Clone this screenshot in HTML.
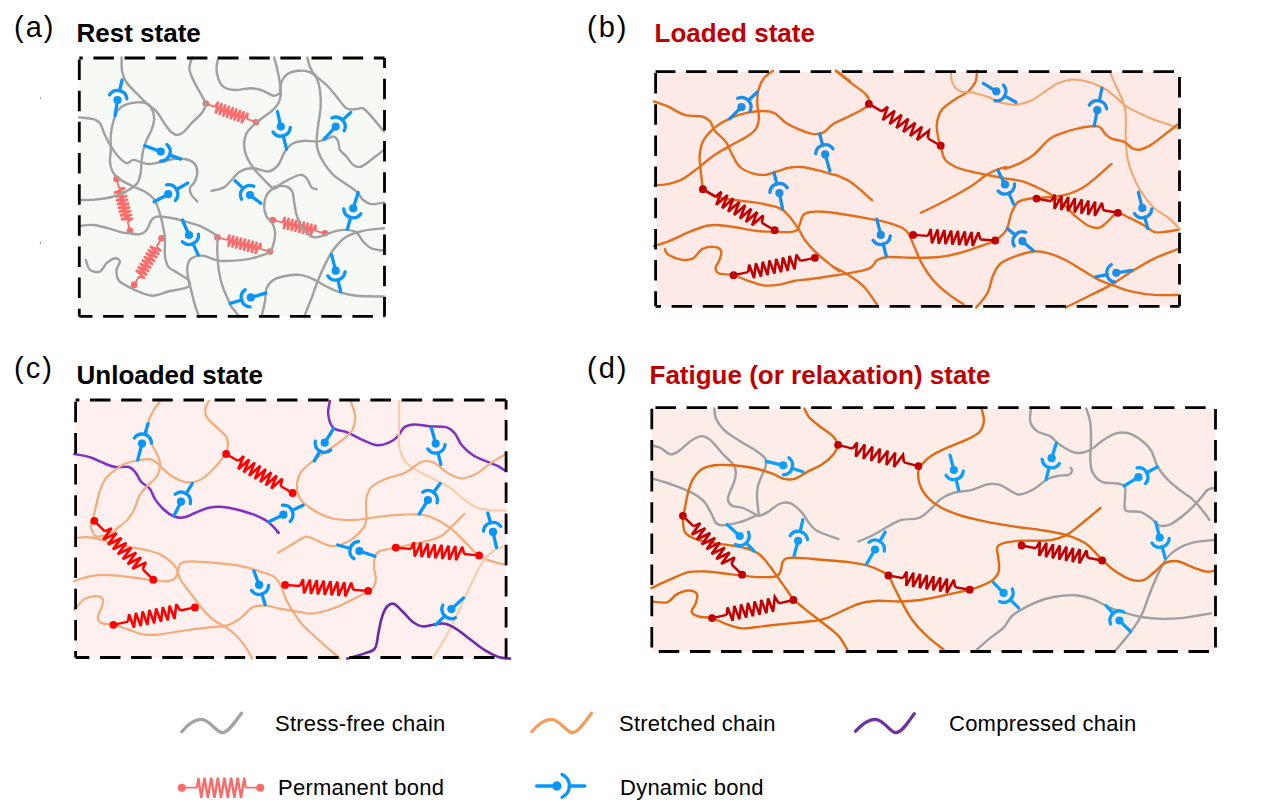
<!DOCTYPE html>
<html><head><meta charset="utf-8">
<style>
html,body{margin:0;padding:0;background:#fff;width:1268px;height:811px;overflow:hidden}
svg{display:block}
text{font-family:"Liberation Sans",sans-serif}
.lbl{font-size:29px;fill:#000;letter-spacing:2px}
.ttl{font-size:26px;font-weight:bold}
.leg{font-size:22px;fill:#000;letter-spacing:0.25px}
.box{stroke:#000;stroke-width:3;stroke-dasharray:21 10}
.g{fill:none;stroke:#a0a0a0;stroke-width:2.4;stroke-linecap:round}
.o{fill:none;stroke:#e36e1c;stroke-width:2.4;stroke-linecap:round}
.lo{fill:none;stroke:#f2a66c;stroke-width:2.0;stroke-linecap:round}
.p{fill:none;stroke:#8230c2;stroke-width:2.5;stroke-linecap:round}
.p3{fill:none;stroke:#6e2aa0;stroke-width:2.6;stroke-linecap:round}
.lc{fill:none;stroke:#f2ad7a;stroke-width:2.2;stroke-linecap:round}
.do{fill:none;stroke:#e06a12;stroke-width:2.4;stroke-linecap:round}
.vlc{fill:none;stroke:#f8cba6;stroke-width:2.0;stroke-linecap:round}
</style></head><body>
<svg width="1268" height="811" viewBox="0 0 1268 811">
<!-- titles -->
<text class="lbl" x="14" y="37">(a)</text>
<text class="ttl" x="76.5" y="42" fill="#000">Rest state</text>
<text class="lbl" x="587" y="37">(b)</text>
<text class="ttl" x="654.5" y="42" fill="#c00000">Loaded state</text>
<text class="lbl" x="14" y="378">(c)</text>
<text class="ttl" x="76.5" y="383.5" fill="#000">Unloaded state</text>
<text class="lbl" x="587" y="378">(d)</text>
<text class="ttl" x="649.5" y="384" fill="#c00000">Fatigue (or relaxation) state</text>

<!-- boxes -->
<rect x="79.3" y="58" width="305.2" height="258.4" fill="#f7f9f5"/>
<rect x="656.3" y="72" width="523.2" height="234.3" fill="#fde9e6"/>
<rect x="75.5" y="400" width="430.6" height="257.5" fill="#fdf0ee"/>
<rect x="652" y="408.5" width="563.5" height="243" fill="#fdede9"/>

<g stroke="#fa6b6b" fill="none" stroke-linejoin="miter" stroke-miterlimit="3"><path stroke-width="1.8" d="M205.8 103.6 L214.8 106.9 M247.0 118.9 L256.0 122.2"/><path stroke-width="2.2" d="M214.8 106.9 L218.2 101.8 L215.6 113.6 L221.9 103.2 L219.3 115.0 L225.6 104.5 L223.0 116.4 L229.3 105.9 L226.7 117.7 L233.0 107.3 L230.4 119.1 L236.7 108.6 L234.0 120.5 L240.4 110.0 L237.7 121.8 L244.0 111.4 L241.4 123.2 L247.7 112.7 L247.0 118.9"/></g><circle cx="205.8" cy="103.6" r="3.3" fill="#fa6b6b"/><circle cx="256.0" cy="122.2" r="3.3" fill="#fa6b6b"/>
<g stroke="#fa6b6b" fill="none" stroke-linejoin="miter" stroke-miterlimit="3"><path stroke-width="1.8" d="M116.6 179.0 L119.0 188.3 M127.6 221.5 L130.0 230.8"/><path stroke-width="2.2" d="M119.0 188.3 L125.2 188.2 L114.0 192.8 L126.2 192.0 L115.0 196.6 L127.1 195.8 L115.9 200.4 L128.1 199.6 L116.9 204.2 L129.1 203.4 L117.9 208.0 L130.1 207.2 L118.9 211.8 L131.1 211.0 L119.9 215.6 L132.1 214.8 L120.9 219.4 L133.0 218.6 L127.6 221.5"/></g><circle cx="116.6" cy="179.0" r="3.3" fill="#fa6b6b"/><circle cx="130.0" cy="230.8" r="3.3" fill="#fa6b6b"/>
<g stroke="#fa6b6b" fill="none" stroke-linejoin="miter" stroke-miterlimit="3"><path stroke-width="1.8" d="M161.6 238.3 L156.7 246.7 M139.0 276.5 L134.1 284.9"/><path stroke-width="2.2" d="M156.7 246.7 L161.1 251.0 L149.9 246.3 L159.1 254.4 L147.9 249.7 L157.1 257.8 L145.9 253.1 L155.0 261.2 L143.9 256.6 L153.0 264.6 L141.8 260.0 L151.0 268.1 L139.8 263.4 L149.0 271.5 L137.8 266.8 L147.0 274.9 L135.8 270.2 L144.9 278.3 L139.0 276.5"/></g><circle cx="161.6" cy="238.3" r="3.3" fill="#fa6b6b"/><circle cx="134.1" cy="284.9" r="3.3" fill="#fa6b6b"/>
<g stroke="#fa6b6b" fill="none" stroke-linejoin="miter" stroke-miterlimit="3"><path stroke-width="1.8" d="M272.8 220.0 L282.2 222.4 M315.5 230.9 L324.9 233.3"/><path stroke-width="2.2" d="M282.2 222.4 L285.0 216.9 L283.7 229.0 L288.9 217.9 L287.5 229.9 L292.7 218.9 L291.3 230.9 L296.5 219.9 L295.1 231.9 L300.3 220.8 L299.0 232.9 L304.2 221.8 L302.8 233.8 L308.0 222.8 L306.6 234.8 L311.8 223.8 L310.4 235.8 L315.6 224.7 L315.5 230.9"/></g><circle cx="272.8" cy="220.0" r="3.3" fill="#fa6b6b"/><circle cx="324.9" cy="233.3" r="3.3" fill="#fa6b6b"/>
<g stroke="#fa6b6b" fill="none" stroke-linejoin="miter" stroke-miterlimit="3"><path stroke-width="1.8" d="M217.4 237.4 L226.9 240.0 M260.5 249.0 L270.0 251.6"/><path stroke-width="2.2" d="M226.9 240.0 L229.8 234.5 L228.3 246.6 L233.7 235.6 L232.2 247.6 L237.5 236.6 L236.0 248.6 L241.4 237.7 L239.9 249.7 L245.3 238.7 L243.8 250.7 L249.1 239.7 L247.6 251.8 L253.0 240.8 L251.5 252.8 L256.8 241.8 L255.3 253.9 L260.7 242.9 L260.5 249.0"/></g><circle cx="217.4" cy="237.4" r="3.3" fill="#fa6b6b"/><circle cx="270.0" cy="251.6" r="3.3" fill="#fa6b6b"/>
<path class="g" d="M121.6 57.5 C121.7 59.9 121.3 67.5 122.1 71.6 C122.9 75.8 124.2 78.9 126.6 82.5 C129.0 86.1 133.3 89.8 136.6 93.3 C139.9 96.8 143.2 100.2 146.6 103.3 C149.9 106.3 153.8 108.5 156.6 111.6 C159.3 114.6 160.9 118.3 163.2 121.6 C165.6 124.9 168.4 129.4 170.7 131.6 C173.1 133.8 175.2 134.9 177.4 134.9 C179.6 134.9 181.7 133.5 184.0 131.6 C186.4 129.6 188.6 126.3 191.5 123.2 C194.4 120.2 199.2 116.5 201.5 113.3 C203.9 110.1 205.5 106.9 205.7 104.1 C205.8 101.3 204.3 100.4 202.3 96.6 C200.4 92.9 196.2 86.1 194.0 81.6 C191.9 77.2 190.1 73.3 189.5 70.0 C189.0 66.7 190.2 63.7 190.7 61.7 C191.2 59.6 192.1 58.2 192.4 57.5"/>
<path class="g" d="M79.2 117.4 C81.5 117.7 89.8 118.1 93.3 119.1 C96.8 120.1 98.2 120.9 100.0 123.2 C101.8 125.6 102.5 129.6 104.1 133.2 C105.8 136.8 107.6 141.0 110.0 144.9 C112.3 148.8 115.5 153.5 118.3 156.5 C121.1 159.6 124.1 162.6 126.6 163.2 C129.1 163.8 130.8 160.0 133.3 159.9 C135.8 159.7 138.8 161.7 141.6 162.4 C144.4 163.1 146.3 164.2 149.9 164.0 C153.5 163.9 159.3 162.4 163.2 161.5 C167.1 160.7 169.6 159.5 173.2 159.0 C176.8 158.6 181.4 158.3 184.9 159.0 C188.3 159.7 191.9 161.1 194.0 163.2 C196.1 165.3 197.2 168.5 197.3 171.5 C197.5 174.6 196.1 178.7 194.9 181.5 C193.6 184.3 190.4 185.9 189.9 188.2 C189.3 190.4 190.3 192.7 191.5 195.0 C192.8 197.2 196.4 200.5 197.3 201.6"/>
<path class="g" d="M80.0 200.0 C82.5 199.9 89.7 200.1 95.0 199.6 C100.2 199.1 106.6 198.3 111.6 197.0 C116.6 195.7 121.2 193.8 124.9 192.0 C128.7 190.2 131.9 188.1 134.1 186.3 C136.3 184.6 137.1 184.0 138.3 181.5 C139.4 179.0 140.2 174.9 140.8 171.5 C141.3 168.2 141.2 165.1 141.6 161.5 C142.0 157.9 142.4 153.5 143.2 149.9 C144.1 146.3 145.2 143.2 146.6 139.9 C148.0 136.6 150.3 133.2 151.6 129.9 C152.8 126.6 153.9 123.2 154.1 119.9 C154.2 116.6 153.7 112.7 152.4 109.9 C151.2 107.2 149.2 104.5 146.6 103.3 C143.9 102.0 140.2 102.2 136.6 102.4 C133.0 102.7 128.1 103.6 124.9 104.9 C121.7 106.3 119.4 108.0 117.4 110.8 C115.5 113.5 114.4 117.6 113.3 121.6 C112.2 125.6 111.2 130.2 110.8 134.9 C110.4 139.6 110.9 145.4 110.8 149.9 C110.7 154.3 109.7 157.9 110.0 161.5 C110.2 165.1 111.1 168.7 112.5 171.5 C113.8 174.3 115.4 176.0 118.3 178.2 C121.2 180.4 125.5 182.6 129.9 184.8 C134.4 187.1 141.0 189.4 144.9 191.7 C148.8 193.9 151.0 195.5 153.2 198.3 C155.5 201.1 156.7 204.1 158.2 208.3 C159.8 212.5 161.3 218.3 162.4 223.3 C163.5 228.3 164.5 233.0 164.9 238.3 C165.3 243.5 164.3 250.2 164.9 254.9 C165.4 259.6 166.0 263.5 168.2 266.6 C170.4 269.6 174.9 271.0 178.2 273.2 C181.5 275.4 186.3 277.9 188.2 279.9 C190.1 281.8 190.4 283.5 189.9 284.9 C189.3 286.3 188.5 287.1 184.9 288.2 C181.3 289.3 173.5 290.3 168.2 291.5 C162.9 292.8 158.2 295.7 153.2 295.7 C148.2 295.7 143.0 293.3 138.3 291.5 C133.5 289.7 128.3 286.8 124.9 284.9 C121.6 282.9 119.7 282.4 118.3 279.9 C116.9 277.4 116.3 272.9 116.6 269.9 C116.9 266.8 120.2 263.5 119.9 261.6 C119.7 259.6 117.2 258.0 115.0 258.2 C112.7 258.5 109.1 261.0 106.6 263.2 C104.1 265.5 102.7 270.5 100.0 271.6 C97.2 272.7 92.3 271.8 90.0 269.9 C87.6 268.0 86.5 261.6 85.8 259.9"/>
<path class="g" d="M218.2 57.5 C217.9 59.3 216.5 64.8 216.5 68.3 C216.5 71.8 217.0 75.3 218.2 78.3 C219.3 81.4 220.4 84.7 223.2 86.6 C225.9 88.6 230.1 89.7 234.8 90.0 C239.6 90.2 246.9 88.2 251.6 88.3 C256.4 88.4 259.7 89.5 263.3 90.8 C266.9 92.0 270.5 95.4 273.3 95.8 C276.1 96.2 278.8 93.7 279.9 93.3"/>
<path class="g" d="M274.1 57.5 C274.7 59.6 276.5 65.7 277.4 70.0 C278.4 74.3 279.4 79.1 279.9 83.3 C280.5 87.5 281.2 91.3 280.8 95.0 C280.4 98.6 279.2 102.0 277.4 104.9 C275.6 107.9 273.4 109.5 270.0 112.4 C266.5 115.3 260.5 118.9 256.6 122.4 C252.7 125.9 248.7 129.5 246.6 133.2 C244.6 137.0 244.1 141.0 244.1 144.9 C244.1 148.8 245.0 152.5 246.6 156.5 C248.3 160.6 251.4 165.3 254.1 169.0 C256.9 172.8 260.1 175.8 263.3 179.0 C266.5 182.2 270.5 187.0 273.3 188.2 C276.1 189.3 277.7 186.2 279.9 186.0 C282.2 185.7 284.5 185.7 286.6 186.7 C288.7 187.6 291.2 189.2 292.4 191.7 C293.7 194.2 293.4 197.8 294.1 201.6 C294.8 205.5 295.3 210.8 296.6 215.0 C297.8 219.1 299.6 223.4 301.6 226.6 C303.5 229.8 306.0 232.3 308.2 234.1 C310.5 235.9 312.1 237.3 314.9 237.4 C317.7 237.6 321.3 236.0 324.9 234.9 C328.5 233.8 332.9 231.6 336.5 230.8 C340.1 229.9 343.2 229.7 346.5 229.9 C349.9 230.2 353.7 230.5 356.5 232.4 C359.3 234.4 360.7 239.0 363.2 241.6 C365.7 244.2 368.0 246.7 371.5 248.3 C375.0 249.8 381.9 250.3 384.0 250.8"/>
<path class="g" d="M274.9 186.3 C273.6 187.8 268.4 191.6 266.6 195.0 C264.8 198.4 264.1 203.0 264.1 206.6 C264.1 210.2 265.2 213.9 266.6 216.6 C268.0 219.4 271.1 220.8 272.4 223.3 C273.8 225.8 274.7 228.6 274.9 231.6 C275.2 234.7 274.9 238.3 274.1 241.6 C273.3 244.9 272.6 249.1 270.0 251.6 C267.3 254.1 262.7 255.2 258.3 256.6 C253.9 258.0 249.7 259.2 243.3 259.9 C236.9 260.6 226.5 261.4 219.8 260.7 C213.1 260.0 207.9 256.2 203.2 255.7 C198.5 255.3 194.2 256.4 191.5 258.2 C188.9 260.0 187.9 263.2 187.4 266.6 C186.8 269.9 187.5 274.1 188.2 278.2 C188.9 282.4 190.4 287.1 191.5 291.5 C192.6 296.0 193.6 300.7 194.9 304.9 C196.1 309.0 198.3 314.6 199.0 316.5"/>
<path class="g" d="M279.9 93.3 C280.2 91.3 280.4 84.8 281.6 81.6 C282.9 78.4 284.7 75.9 287.4 74.1 C290.2 72.3 294.8 71.2 298.2 70.8 C301.7 70.4 305.3 70.7 308.2 71.6 C311.1 72.6 313.8 73.6 315.7 76.6 C317.7 79.7 319.1 85.0 319.9 90.0 C320.7 95.0 321.0 100.8 320.7 106.6 C320.4 112.4 318.9 119.1 318.2 124.9 C317.5 130.7 316.6 137.1 316.6 141.6 C316.6 146.0 317.0 147.9 318.2 151.5 C319.5 155.2 321.6 159.3 324.1 163.2 C326.5 167.1 329.7 171.5 333.2 174.9 C336.7 178.2 341.0 180.4 344.9 183.2 C348.7 186.0 353.5 188.9 356.5 191.7 C359.6 194.5 360.7 197.9 363.2 200.0 C365.7 202.1 368.0 203.7 371.5 204.1 C375.0 204.6 381.9 202.8 384.0 202.5"/>
<path class="g" d="M307.4 57.5 C307.8 59.0 308.7 63.7 309.9 66.7 C311.1 69.6 312.1 71.9 314.9 75.0 C317.7 78.0 322.9 81.4 326.5 85.0 C330.2 88.6 333.2 92.7 336.5 96.6 C339.9 100.5 343.2 106.2 346.5 108.3 C349.9 110.3 353.7 109.1 356.5 109.1 C359.3 109.1 360.7 107.0 363.2 108.3 C365.7 109.5 368.0 112.7 371.5 116.6 C375.0 120.5 381.9 129.1 384.0 131.6"/>
<path class="g" d="M211.5 190.8 C213.7 190.1 220.1 189.9 224.8 186.7 C229.6 183.4 235.2 174.6 240.0 171.5 C244.7 168.4 248.6 168.2 253.3 168.2 C258.0 168.2 264.1 172.1 268.3 171.5 C272.4 171.0 275.5 168.2 278.3 164.9 C281.0 161.5 282.4 155.2 284.9 151.5 C287.4 147.9 289.9 145.0 293.3 143.2 C296.6 141.4 301.0 141.0 304.9 140.7 C308.8 140.5 313.0 141.8 316.6 141.6 C320.2 141.3 323.6 139.9 326.5 139.1 C329.5 138.2 332.1 136.1 334.0 136.6 C336.0 137.0 337.2 139.3 338.2 141.6 C339.2 143.8 338.5 147.4 339.9 149.9 C341.3 152.4 344.3 154.0 346.5 156.5 C348.7 159.0 350.7 163.2 353.2 164.9 C355.7 166.5 358.2 167.6 361.5 166.5 C364.8 165.4 369.4 161.0 373.2 158.2 C376.9 155.4 382.2 151.3 384.0 149.9"/>
<path class="g" d="M271.6 189.8 C273.8 188.4 280.2 184.0 284.9 181.5 C289.6 179.0 296.3 175.4 299.9 174.9 C303.5 174.3 304.6 176.1 306.6 178.2 C308.5 180.3 309.9 185.7 311.6 187.5 C313.2 189.3 315.7 188.9 316.6 189.2"/>
<path class="g" d="M80.8 225.8 C82.9 225.6 88.7 224.5 93.3 225.0 C97.9 225.4 103.6 227.0 108.3 228.3 C113.0 229.5 118.0 231.6 121.6 232.4 C125.2 233.3 126.9 233.0 129.9 233.3 C133.0 233.6 137.1 234.7 139.9 234.1 C142.7 233.6 144.6 232.3 146.6 229.9 C148.5 227.6 149.9 222.2 151.6 220.0 C153.2 217.7 153.8 217.0 156.6 216.6 C159.3 216.2 163.8 216.8 168.2 217.5 C172.7 218.2 177.7 219.3 183.2 220.8 C188.7 222.3 196.5 224.5 201.5 226.6 C206.5 228.7 210.5 231.5 213.2 233.3 C215.8 235.1 216.6 234.4 217.3 237.4 C218.0 240.5 217.0 245.9 217.3 251.6 C217.6 257.3 218.0 265.5 219.0 271.6 C220.0 277.7 221.3 282.9 223.2 288.2 C225.0 293.5 228.7 300.4 229.8 303.2 C231.0 306.0 228.9 303.2 230.0 304.9 C231.1 306.5 235.1 311.2 236.7 313.2 C238.2 315.1 238.7 315.9 239.2 316.5"/>
<path class="g" d="M384.0 228.3 C380.5 228.7 369.4 229.4 363.2 230.8 C356.9 232.2 351.5 233.4 346.5 236.6 C341.5 239.8 336.8 245.2 333.2 249.9 C329.6 254.6 327.4 259.9 324.9 264.9 C322.4 269.9 320.4 274.3 318.2 279.9 C316.0 285.4 313.9 292.1 311.6 298.2 C309.2 304.3 305.3 313.5 304.1 316.5"/>
<path class="g" d="M261.6 316.5 C262.2 314.0 264.1 306.2 265.0 301.5 C265.8 296.8 265.2 291.8 266.6 288.2 C268.0 284.6 270.0 282.0 273.3 279.9 C276.6 277.8 282.2 276.6 286.6 275.7 C291.0 274.9 295.5 274.3 299.9 274.9 C304.4 275.4 308.8 277.1 313.2 279.1 C317.7 281.0 322.1 284.3 326.5 286.5 C331.0 288.8 334.9 290.8 339.9 292.4 C344.9 293.9 349.2 295.0 356.5 295.7 C363.9 296.4 379.4 296.4 384.0 296.5"/>
<g stroke="#0a96f5" stroke-width="3.3" stroke-linecap="round" fill="none"><path d="M115.0 115.8 L117.5 100.0"/><path d="M109.5 94.8 A9.5 9.5 0 0 1 126.9 98.8"/><path d="M119.6 90.7 L122.1 80.0"/></g><circle cx="117.5" cy="100.0" r="4.1" fill="#0a96f5"/>
<g stroke="#0a96f5" stroke-width="3.3" stroke-linecap="round" fill="none"><path d="M144.9 145.7 L160.7 151.6"/><path d="M166.9 144.4 A9.5 9.5 0 0 1 160.6 161.1"/><path d="M169.6 154.9 L180.7 159.1"/></g><circle cx="160.7" cy="151.6" r="4.1" fill="#0a96f5"/>
<g stroke="#0a96f5" stroke-width="3.3" stroke-linecap="round" fill="none"><path d="M277.5 111.6 L280.8 126.6"/><path d="M290.3 127.5 A9.5 9.5 0 0 1 273.0 132.0"/><path d="M283.2 135.8 L286.6 149.1"/></g><circle cx="280.8" cy="126.6" r="4.1" fill="#0a96f5"/>
<g stroke="#0a96f5" stroke-width="3.3" stroke-linecap="round" fill="none"><path d="M324.1 139.1 L335.7 126.6"/><path d="M331.9 117.9 A9.5 9.5 0 0 1 344.2 130.8"/><path d="M342.6 120.1 L350.7 112.4"/></g><circle cx="335.7" cy="126.6" r="4.1" fill="#0a96f5"/>
<g stroke="#0a96f5" stroke-width="3.3" stroke-linecap="round" fill="none"><path d="M154.1 201.7 L168.2 194.2"/><path d="M166.6 184.8 A9.5 9.5 0 0 1 175.4 200.4"/><path d="M176.5 189.5 L187.7 183.1"/></g><circle cx="168.2" cy="194.2" r="4.1" fill="#0a96f5"/>
<g stroke="#0a96f5" stroke-width="3.3" stroke-linecap="round" fill="none"><path d="M182.4 220.0 L189.0 235.0"/><path d="M198.5 234.2 A9.5 9.5 0 0 1 182.3 241.7"/><path d="M193.0 243.6 L198.2 254.9"/></g><circle cx="189.0" cy="235.0" r="4.1" fill="#0a96f5"/>
<g stroke="#0a96f5" stroke-width="3.3" stroke-linecap="round" fill="none"><path d="M260.8 203.3 L250.0 195.0"/><path d="M241.5 199.2 A9.5 9.5 0 0 1 253.8 186.3"/><path d="M243.1 188.4 L235.1 180.8"/></g><circle cx="250.0" cy="195.0" r="4.1" fill="#0a96f5"/>
<g stroke="#0a96f5" stroke-width="3.3" stroke-linecap="round" fill="none"><path d="M358.2 192.5 L353.2 208.3"/><path d="M360.9 213.8 A9.5 9.5 0 0 1 343.7 209.0"/><path d="M350.6 217.5 L347.4 229.1"/></g><circle cx="353.2" cy="208.3" r="4.1" fill="#0a96f5"/>
<g stroke="#0a96f5" stroke-width="3.3" stroke-linecap="round" fill="none"><path d="M331.6 254.9 L335.7 270.7"/><path d="M345.1 271.8 A9.5 9.5 0 0 1 327.8 275.9"/><path d="M337.9 279.9 L340.7 291.6"/></g><circle cx="335.7" cy="270.7" r="4.1" fill="#0a96f5"/>
<g stroke="#0a96f5" stroke-width="3.3" stroke-linecap="round" fill="none"><path d="M265.8 293.2 L250.8 297.4"/><path d="M250.1 306.9 A9.5 9.5 0 0 1 245.2 289.7"/><path d="M241.7 300.0 L230.2 303.3"/></g><circle cx="250.8" cy="297.4" r="4.1" fill="#0a96f5"/>
<path class="o" d="M653.9 101.5 C656.2 102.3 662.2 104.0 667.4 106.2 C672.5 108.5 678.9 113.2 684.7 114.9 C690.5 116.6 697.9 115.5 702.1 116.5 C706.3 117.6 707.9 118.9 710.0 121.2 C712.1 123.6 712.1 127.3 714.7 130.7 C717.3 134.1 722.9 137.8 725.8 141.8 C728.7 145.7 729.7 150.2 732.1 154.4 C734.4 158.6 736.5 163.9 740.0 167.0 C743.4 170.2 748.4 172.0 752.6 173.3 C756.8 174.6 761.3 175.2 765.2 174.9 C769.2 174.6 772.3 172.9 776.3 171.7 C780.2 170.6 784.7 168.6 788.9 167.8 C793.1 167.0 796.8 166.6 801.5 167.0 C806.3 167.4 811.8 168.9 817.3 170.2 C822.8 171.5 831.6 174.1 834.7 174.9 C837.7 175.7 833.0 173.6 835.8 174.9 C838.6 176.2 845.5 178.6 851.6 182.8 C857.6 187.0 868.7 197.3 872.1 200.2"/>
<path class="o" d="M773.1 70.7 C771.5 72.1 766.1 75.2 763.6 78.6 C761.1 82.0 759.2 87.0 758.1 91.3 C757.1 95.5 757.2 99.4 757.3 103.9 C757.5 108.4 759.2 113.9 758.9 118.1 C758.6 122.3 757.9 126.0 755.7 129.1 C753.6 132.3 750.7 134.1 746.3 137.0 C741.8 139.9 734.4 143.3 728.9 146.5 C723.4 149.6 718.4 152.3 713.1 156.0 C707.9 159.6 702.6 164.6 697.3 168.6 C692.1 172.5 686.8 177.0 681.6 179.6 C676.3 182.3 670.3 183.5 665.8 184.4 C661.3 185.3 656.6 185.0 654.7 185.2"/>
<path class="o" d="M702.9 189.2 C702.6 187.0 701.7 179.9 701.3 176.5 C700.9 173.1 700.8 172.3 700.5 168.6 C700.2 164.9 699.2 159.1 699.7 154.4 C700.2 149.6 701.2 144.7 703.7 140.2 C706.2 135.7 710.2 131.2 714.7 127.6 C719.2 123.9 725.0 120.6 730.5 118.1 C736.0 115.6 742.3 113.7 747.9 112.6 C753.4 111.4 759.2 110.8 763.6 111.0 C768.1 111.1 771.0 111.4 774.7 113.3 C778.4 115.3 781.8 120.2 785.7 122.8 C789.7 125.4 793.9 127.3 798.4 129.1 C802.8 131.0 808.4 133.3 812.6 133.9 C816.8 134.4 820.3 133.9 823.6 132.3 C827.0 130.7 829.0 126.8 832.6 124.4 C836.2 122.0 840.5 120.5 845.3 118.1 C850.0 115.7 857.1 112.6 861.0 110.2 C865.0 107.8 868.1 106.5 868.9 103.9 C869.7 101.2 868.7 97.8 865.8 94.4 C862.9 91.0 856.6 87.3 851.6 83.4 C846.6 79.4 838.4 72.8 835.8 70.7"/>
<path class="o" d="M836.2 70.7 L849.7 81.0"/>
<path class="o" d="M977.0 70.7 C976.8 72.6 976.9 78.4 975.5 81.8 C974.0 85.2 971.9 88.2 968.4 91.3 C964.8 94.3 958.6 96.8 954.2 99.9 C949.7 103.1 944.4 106.1 941.5 110.2 C938.6 114.3 937.3 119.7 936.8 124.4 C936.3 129.1 937.7 135.1 938.4 138.6 C939.0 142.2 939.7 142.3 940.7 145.7 C941.8 149.1 942.2 155.6 944.7 159.1 C947.2 162.7 951.3 164.9 955.7 167.0 C960.2 169.1 966.3 170.4 971.5 171.7 C976.8 173.1 982.0 173.9 987.3 174.9 C992.6 176.0 997.4 177.0 1003.1 178.1 C1008.8 179.1 1015.9 179.6 1021.6 181.2 C1027.3 182.8 1032.6 185.4 1037.3 187.5 C1042.1 189.6 1045.5 191.0 1050.0 193.9 C1054.4 196.8 1060.0 201.3 1064.2 204.9 C1068.4 208.6 1071.3 212.6 1075.2 216.0 C1079.2 219.4 1083.9 223.5 1087.9 225.5 C1091.8 227.4 1095.7 228.4 1098.9 227.8 C1102.1 227.3 1104.4 224.3 1106.8 222.3 C1109.2 220.3 1111.3 217.6 1113.1 216.0 C1114.9 214.4 1115.2 212.6 1117.8 212.8 C1120.5 213.1 1124.9 215.7 1128.9 217.6 C1132.8 219.4 1137.3 221.5 1141.5 223.9 C1145.7 226.2 1150.2 230.5 1154.1 231.8 C1158.1 233.1 1161.0 232.2 1165.2 231.8 C1169.4 231.4 1177.0 229.8 1179.4 229.4"/>
<path class="lo" d="M951.0 72.3 C951.3 74.2 951.0 80.2 952.6 83.4 C954.2 86.5 957.0 89.7 960.5 91.3 C963.9 92.8 968.6 91.9 973.1 92.8 C977.6 93.8 983.1 95.3 987.3 96.8 C991.5 98.2 995.8 100.5 998.3 101.5 C1000.9 102.6 999.5 102.6 1002.6 103.1 C1005.7 103.6 1012.1 105.1 1016.8 104.7 C1021.6 104.3 1026.3 103.0 1031.0 100.7 C1035.8 98.5 1040.8 94.1 1045.2 91.3 C1049.7 88.4 1053.4 85.3 1057.9 83.4 C1062.3 81.4 1067.1 79.7 1072.1 79.4 C1077.1 79.2 1082.6 80.3 1087.9 81.8 C1093.1 83.2 1098.9 85.5 1103.6 88.1 C1108.4 90.7 1112.3 94.4 1116.3 97.6 C1120.2 100.7 1123.4 104.4 1127.3 107.0 C1131.3 109.7 1135.5 111.2 1139.9 113.3 C1144.4 115.5 1149.4 117.8 1154.1 119.7 C1158.9 121.5 1164.1 122.8 1168.3 124.4 C1172.6 126.0 1177.6 128.3 1179.4 129.1"/>
<path class="lo" d="M1110.0 72.3 C1111.0 74.7 1114.2 81.8 1116.3 86.5 C1118.4 91.3 1121.0 96.3 1122.6 100.7 C1124.2 105.2 1125.2 107.3 1125.7 113.3 C1126.3 119.4 1125.5 129.7 1125.7 137.0 C1126.0 144.4 1126.3 151.5 1127.3 157.5 C1128.4 163.6 1129.7 167.5 1132.0 173.3 C1134.4 179.1 1137.8 186.5 1141.5 192.3 C1145.2 198.1 1149.7 203.9 1154.1 208.1 C1158.6 212.3 1164.1 214.1 1168.3 217.6 C1172.6 221.0 1177.6 226.8 1179.4 228.6"/>
<path class="o" d="M921.0 212.8 C925.2 210.7 937.8 204.7 946.3 200.2 C954.7 195.7 965.2 189.9 971.5 186.0 C977.8 182.0 980.5 179.0 984.1 176.5 C987.8 174.0 989.9 172.5 993.6 171.0 C997.3 169.4 1004.2 167.4 1006.2 167.0 C1008.3 166.6 1003.2 169.4 1005.8 168.6 C1008.3 167.8 1016.8 164.6 1021.6 162.3 C1026.3 159.9 1029.5 158.3 1034.2 154.4 C1038.9 150.4 1045.0 142.3 1050.0 138.6 C1055.0 134.9 1059.4 134.0 1064.2 132.3 C1068.9 130.6 1073.4 129.4 1078.4 128.3 C1083.4 127.3 1090.5 126.1 1094.2 126.0 C1097.9 125.8 1098.6 126.2 1100.5 127.6 C1102.3 128.9 1103.4 132.0 1105.2 133.9 C1107.1 135.7 1108.4 137.3 1111.5 138.6 C1114.7 139.9 1120.7 140.2 1124.2 141.8 C1127.6 143.3 1129.4 146.8 1132.0 148.1 C1134.7 149.4 1136.8 150.2 1139.9 149.6 C1143.1 149.1 1147.0 147.3 1151.0 144.9 C1154.9 142.5 1159.1 138.9 1163.6 135.4 C1168.1 132.0 1175.5 126.2 1177.8 124.4"/>
<path class="o" d="M653.9 246.0 C656.4 245.2 663.0 243.6 668.9 241.2 C674.9 238.9 682.9 234.4 689.5 231.8 C696.0 229.1 702.9 226.5 708.4 225.5 C713.9 224.4 717.6 225.1 722.6 225.5 C727.6 225.9 732.6 226.9 738.4 227.8 C744.2 228.7 751.3 230.3 757.3 231.0 C763.4 231.6 769.4 231.6 774.7 231.8 C779.9 232.0 785.2 232.3 788.9 232.1 C792.6 231.8 794.9 231.6 796.8 230.2 C798.6 228.8 798.9 226.4 799.9 223.9 C801.0 221.4 801.3 217.2 803.1 215.2 C804.9 213.2 807.0 212.6 811.0 212.0 C814.9 211.5 817.4 211.0 826.8 212.0 C836.2 213.1 856.9 216.5 867.3 218.4 C877.8 220.2 883.7 221.5 889.4 223.1 C895.2 224.7 898.9 226.1 902.1 227.8 C905.2 229.5 906.3 230.1 908.4 233.3 C910.5 236.6 912.3 242.3 914.7 247.6 C917.1 252.8 919.4 259.4 922.6 264.9 C925.7 270.4 929.2 275.7 933.6 280.7 C938.1 285.7 944.4 291.0 949.4 294.9 C954.4 298.8 961.3 302.8 963.6 304.4"/>
<path class="o" d="M702.9 189.2 C705.1 190.5 710.6 195.2 716.3 197.0 C721.9 198.9 729.4 199.2 736.8 200.2 C744.2 201.3 753.4 202.0 760.5 203.4 C767.6 204.7 774.7 206.0 779.4 208.1 C784.2 210.2 785.7 212.6 788.9 216.0 C792.0 219.4 795.7 224.7 798.4 228.6 C801.0 232.6 802.0 236.0 804.7 239.7 C807.3 243.3 810.5 247.0 814.1 250.7 C817.8 254.4 822.6 258.3 826.8 261.8 C831.0 265.2 838.4 270.4 839.4 271.2 C840.4 272.0 830.9 265.7 832.6 266.5 C834.4 267.3 844.7 272.5 850.0 276.0 C855.2 279.4 859.7 282.3 864.2 287.0 C868.7 291.7 874.7 301.5 876.8 304.4"/>
<path class="o" d="M665.0 249.1 C665.4 249.9 664.9 252.2 667.4 253.9 C669.9 255.6 675.8 258.6 680.0 259.4 C684.2 260.2 688.9 260.3 692.6 258.6 C696.3 256.9 698.7 251.1 702.1 249.1 C705.5 247.2 710.0 246.5 713.1 246.8 C716.3 247.0 720.0 248.5 721.0 250.7 C722.1 252.9 720.4 257.3 719.4 260.2 C718.5 263.1 715.5 265.8 715.5 268.1 C715.5 270.3 716.4 272.4 719.4 273.6 C722.5 274.8 728.9 274.0 733.6 275.2 C738.4 276.4 742.9 279.0 747.9 280.7 C752.9 282.4 758.4 284.8 763.6 285.4 C768.9 286.1 774.2 285.4 779.4 284.6 C784.7 283.9 789.2 281.8 795.2 280.7 C801.3 279.6 804.0 280.2 815.7 278.3 C827.5 276.5 855.6 272.7 865.8 269.6 C876.0 266.6 873.1 262.3 876.8 260.2 C880.5 258.1 881.6 257.4 887.9 257.0 C894.2 256.6 906.0 257.8 914.7 257.8 C923.4 257.8 932.1 257.9 940.0 257.0 C947.8 256.1 955.2 254.1 962.0 252.3 C968.9 250.4 975.5 247.9 981.0 246.0 C986.5 244.0 991.0 243.1 995.2 240.5 C999.4 237.8 1003.6 234.5 1006.2 230.2 C1008.9 225.9 1009.4 218.6 1011.0 214.4 C1012.6 210.2 1014.2 207.2 1015.7 204.9 C1017.2 202.7 1016.6 202.2 1020.0 201.0 C1023.3 199.8 1030.2 198.5 1035.8 197.8 C1041.3 197.2 1047.6 197.7 1053.1 197.0 C1058.7 196.4 1063.9 195.5 1068.9 193.9 C1073.9 192.3 1078.4 190.4 1083.1 187.5 C1087.9 184.6 1092.6 180.4 1097.3 176.5 C1102.1 172.5 1109.2 166.0 1111.5 163.9"/>
<path class="o" d="M976.3 307.5 C978.1 305.2 984.4 298.8 987.3 293.3 C990.2 287.8 991.0 279.6 993.6 274.4 C996.2 269.1 996.6 265.6 1003.1 261.8 C1009.6 257.9 1024.8 252.8 1032.6 251.5 C1040.4 250.2 1044.5 252.4 1050.0 253.9 C1055.5 255.3 1060.5 257.5 1065.8 260.2 C1071.0 262.8 1076.3 266.5 1081.5 269.6 C1086.8 272.8 1092.1 276.5 1097.3 279.1 C1102.6 281.8 1107.3 283.3 1113.1 285.4 C1118.9 287.5 1125.2 290.2 1132.0 291.7 C1138.9 293.3 1146.3 294.4 1154.1 294.9 C1162.0 295.4 1175.2 294.9 1179.4 294.9"/>
<path class="o" d="M1065.8 307.5 C1069.4 305.7 1080.5 300.2 1087.9 296.5 C1095.2 292.8 1102.6 289.6 1110.0 285.4 C1117.3 281.2 1124.7 275.7 1132.0 271.2 C1139.4 266.8 1146.5 262.3 1154.1 258.6 C1161.8 254.9 1173.9 250.7 1177.8 249.1"/>
<g stroke="#c00000" fill="none" stroke-linejoin="miter" stroke-miterlimit="3"><path stroke-width="2.4" d="M868.9 103.9 L881.8 111.4 M927.8 138.2 L940.7 145.7"/><path stroke-width="2.6" d="M881.8 111.4 L887.8 106.8 L882.8 120.1 L894.6 110.8 L889.7 124.1 L901.5 114.8 L896.5 128.1 L908.3 118.8 L903.3 132.0 L915.2 122.7 L910.2 136.0 L922.0 126.7 L917.0 140.0 L928.8 130.7 L927.8 138.2"/></g><circle cx="868.9" cy="103.9" r="3.9" fill="#c00000"/><circle cx="940.7" cy="145.7" r="3.9" fill="#c00000"/>
<g stroke="#c00000" fill="none" stroke-linejoin="miter" stroke-miterlimit="3"><path stroke-width="2.4" d="M702.9 189.2 L715.8 196.6 M761.8 222.8 L774.7 230.2"/><path stroke-width="2.6" d="M715.8 196.6 L721.4 191.7 L716.3 204.9 L727.4 195.1 L722.2 208.3 L733.3 198.5 L728.2 211.7 L739.3 201.9 L734.1 215.1 L745.2 205.3 L740.1 218.5 L751.2 208.7 L746.0 221.9 L757.2 212.1 L752.0 225.3 L763.1 215.5 L761.8 222.8"/></g><circle cx="702.9" cy="189.2" r="3.9" fill="#c00000"/><circle cx="774.7" cy="230.2" r="3.9" fill="#c00000"/>
<g stroke="#c00000" fill="none" stroke-linejoin="miter" stroke-miterlimit="3"><path stroke-width="2.4" d="M733.6 275.2 L748.2 272.1 M800.3 260.9 L814.9 257.8"/><path stroke-width="2.6" d="M748.2 272.1 L749.2 264.7 L754.1 278.0 L755.9 263.3 L760.9 276.5 L762.7 261.8 L767.6 275.1 L769.4 260.4 L774.4 273.6 L776.2 258.9 L781.1 272.2 L782.9 257.5 L787.8 270.7 L789.6 256.0 L794.6 269.3 L796.4 254.6 L800.3 260.9"/></g><circle cx="733.6" cy="275.2" r="3.9" fill="#c00000"/><circle cx="814.9" cy="257.8" r="3.9" fill="#c00000"/>
<g stroke="#c00000" fill="none" stroke-linejoin="miter" stroke-miterlimit="3"><path stroke-width="2.4" d="M913.1 234.9 L927.9 235.9 M980.4 239.5 L995.2 240.5"/><path stroke-width="2.6" d="M927.9 235.9 L930.8 229.1 L931.9 243.2 L937.6 229.6 L938.7 243.7 L944.4 230.0 L945.5 244.1 L951.2 230.5 L952.3 244.6 L958.0 230.9 L959.1 245.1 L964.8 231.4 L965.9 245.5 L971.6 231.9 L972.7 246.0 L978.4 232.3 L980.4 239.5"/></g><circle cx="913.1" cy="234.9" r="3.9" fill="#c00000"/><circle cx="995.2" cy="240.5" r="3.9" fill="#c00000"/>
<g stroke="#c00000" fill="none" stroke-linejoin="miter" stroke-miterlimit="3"><path stroke-width="2.4" d="M1036.6 198.6 L1051.2 201.2 M1103.2 210.2 L1117.8 212.8"/><path stroke-width="2.6" d="M1051.2 201.2 L1054.8 194.7 L1054.5 208.8 L1061.6 195.9 L1061.2 210.0 L1068.3 197.0 L1067.9 211.2 L1075.0 198.2 L1074.6 212.4 L1081.8 199.4 L1081.4 213.5 L1088.5 200.6 L1088.1 214.7 L1095.2 201.7 L1094.8 215.9 L1102.0 202.9 L1103.2 210.2"/></g><circle cx="1036.6" cy="198.6" r="3.9" fill="#c00000"/><circle cx="1117.8" cy="212.8" r="3.9" fill="#c00000"/>
<g stroke="#1a8fe8" stroke-width="3.3" stroke-linecap="round" fill="none"><path d="M729.7 118.9 L741.5 107.0"/><path d="M737.7 98.3 A9.5 9.5 0 0 1 750.0 111.2"/><path d="M748.4 100.5 L757.3 92.0"/></g><circle cx="741.5" cy="107.0" r="4.1" fill="#1a8fe8"/>
<g stroke="#1a8fe8" stroke-width="3.3" stroke-linecap="round" fill="none"><path d="M829.9 171.0 L825.2 154.4"/><path d="M815.7 153.6 A9.5 9.5 0 0 1 833.0 148.9"/><path d="M822.7 145.2 L819.6 133.9"/></g><circle cx="825.2" cy="154.4" r="4.1" fill="#1a8fe8"/>
<g stroke="#1a8fe8" stroke-width="3.3" stroke-linecap="round" fill="none"><path d="M782.6 208.9 L779.4 193.1"/><path d="M769.9 192.3 A9.5 9.5 0 0 1 787.2 187.7"/><path d="M776.9 183.9 L773.9 172.5"/></g><circle cx="779.4" cy="193.1" r="4.1" fill="#1a8fe8"/>
<g stroke="#1a8fe8" stroke-width="3.3" stroke-linecap="round" fill="none"><path d="M983.4 83.4 L996.3 91.3"/><path d="M1003.5 85.1 A9.5 9.5 0 0 1 994.8 100.7"/><path d="M1004.6 95.9 L1016.0 102.3"/></g><circle cx="996.3" cy="91.3" r="4.1" fill="#1a8fe8"/>
<g stroke="#1a8fe8" stroke-width="3.3" stroke-linecap="round" fill="none"><path d="M997.9 170.2 L1005.0 184.4"/><path d="M1014.5 183.8 A9.5 9.5 0 0 1 998.1 191.0"/><path d="M1008.8 193.1 L1013.7 204.2"/></g><circle cx="1005.0" cy="184.4" r="4.1" fill="#1a8fe8"/>
<g stroke="#1a8fe8" stroke-width="3.3" stroke-linecap="round" fill="none"><path d="M1094.2 126.0 L1097.3 110.2"/><path d="M1089.2 105.2 A9.5 9.5 0 0 1 1106.7 108.9"/><path d="M1099.3 100.9 L1102.0 88.1"/></g><circle cx="1097.3" cy="110.2" r="4.1" fill="#1a8fe8"/>
<g stroke="#1a8fe8" stroke-width="3.3" stroke-linecap="round" fill="none"><path d="M876.8 219.1 L880.8 234.9"/><path d="M890.3 235.8 A9.5 9.5 0 0 1 873.0 240.3"/><path d="M883.2 244.1 L886.3 256.2"/></g><circle cx="880.8" cy="234.9" r="4.1" fill="#1a8fe8"/>
<g stroke="#1a8fe8" stroke-width="3.3" stroke-linecap="round" fill="none"><path d="M1033.4 250.7 L1022.4 241.2"/><path d="M1014.2 245.9 A9.5 9.5 0 0 1 1025.7 232.3"/><path d="M1015.1 235.1 L1007.4 228.6"/></g><circle cx="1022.4" cy="241.2" r="4.1" fill="#1a8fe8"/>
<g stroke="#1a8fe8" stroke-width="3.3" stroke-linecap="round" fill="none"><path d="M1138.4 192.3 L1142.3 208.1"/><path d="M1151.8 208.9 A9.5 9.5 0 0 1 1134.5 213.6"/><path d="M1144.8 217.3 L1147.8 228.6"/></g><circle cx="1142.3" cy="208.1" r="4.1" fill="#1a8fe8"/>
<g stroke="#1a8fe8" stroke-width="3.3" stroke-linecap="round" fill="none"><path d="M1132.0 270.4 L1116.3 272.8"/><path d="M1114.8 282.2 A9.5 9.5 0 0 1 1111.4 264.7"/><path d="M1107.0 274.6 L1095.7 276.8"/></g><circle cx="1116.3" cy="272.8" r="4.1" fill="#1a8fe8"/>
<path class="p" d="M74.3 454.0 C77.1 454.6 85.8 455.9 90.8 457.5 C95.9 459.1 100.7 461.9 104.7 463.5 C108.7 465.1 111.1 466.4 115.1 467.0 C119.2 467.6 125.5 466.0 129.0 467.0 C132.5 468.0 133.9 470.6 135.9 473.1 C138.0 475.5 138.8 479.1 141.1 481.8 C143.4 484.4 147.5 485.8 149.8 488.7 C152.1 491.6 152.7 495.6 155.0 499.1 C157.3 502.6 160.5 506.6 163.7 509.5 C166.9 512.4 170.6 515.1 174.1 516.5 C177.6 517.8 181.0 517.9 184.5 517.3 C188.0 516.7 190.9 514.6 194.9 513.0 C199.0 511.4 204.2 508.8 208.8 507.8 C213.4 506.8 218.1 506.6 222.7 506.9 C227.3 507.2 231.4 508.2 236.6 509.5 C241.8 510.8 248.7 512.7 253.9 514.7 C259.1 516.7 263.7 518.8 267.8 521.7 C271.8 524.5 276.6 530.4 278.2 532.1 C279.8 533.8 277.5 532.0 277.3 531.9"/>
<path class="lc" d="M160.2 401.1 C159.1 402.7 155.3 407.0 153.3 410.6 C151.3 414.2 149.1 419.0 148.1 422.8 C147.1 426.5 146.3 429.1 147.2 433.2 C148.1 437.2 151.4 443.0 153.3 447.1 C155.2 451.1 157.3 454.3 158.5 457.5 C159.6 460.6 160.5 463.0 160.2 466.1 C159.9 469.3 159.1 473.1 156.8 476.5 C154.4 480.0 149.2 483.8 146.3 487.0 C143.4 490.1 141.4 491.9 139.4 495.6 C137.4 499.4 136.2 505.5 134.2 509.5 C132.2 513.6 130.1 516.7 127.3 519.9 C124.4 523.1 119.2 526.6 116.8 528.6 C114.5 530.6 115.4 530.8 113.4 531.9 C111.4 533.1 107.6 534.7 104.7 535.4 C101.8 536.1 98.0 536.9 96.0 536.3 C94.0 535.7 93.4 533.8 92.6 531.9 C91.7 530.1 90.8 527.0 90.8 525.0 C90.8 523.0 91.7 523.1 92.6 519.9 C93.4 516.8 94.9 510.7 96.0 506.0 C97.2 501.4 98.0 496.5 99.5 492.2 C100.9 487.8 102.4 483.5 104.7 480.0 C107.0 476.5 109.9 474.1 113.4 471.3 C116.8 468.6 121.2 465.4 125.5 463.5 C129.9 461.7 135.4 460.8 139.4 460.1 C143.4 459.3 146.9 458.8 149.8 459.2 C152.7 459.6 154.7 461.2 156.8 462.7 C158.8 464.1 159.4 465.6 162.0 467.9 C164.6 470.2 168.6 474.2 172.4 476.5 C176.1 478.9 180.8 480.9 184.5 481.8 C188.3 482.6 191.5 482.6 194.9 481.8 C198.4 480.9 201.6 479.4 205.3 476.5 C209.1 473.7 214.2 468.2 217.5 464.4 C220.8 460.6 223.5 457.2 225.3 454.0 C227.0 450.8 227.7 448.2 227.9 445.3 C228.0 442.4 227.9 439.5 226.2 436.6 C224.4 433.7 220.7 431.1 217.5 428.0 C214.3 424.8 209.1 420.7 207.1 417.6 C205.0 414.4 205.0 411.6 205.3 408.9 C205.6 406.1 208.2 402.4 208.8 401.1"/>
<path class="p" d="M329.9 401.1 C329.6 403.2 327.6 409.6 328.2 414.1 C328.7 418.6 330.2 424.9 333.4 428.0 C336.6 431.0 342.3 430.3 347.3 432.3 C352.2 434.3 358.0 437.9 362.9 440.1 C367.8 442.3 372.4 444.9 376.8 445.3 C381.1 445.7 385.4 444.2 388.9 442.7 C392.4 441.3 395.0 439.2 397.6 436.6 C400.2 434.0 401.6 429.1 404.5 427.1 C407.4 425.1 410.9 424.6 414.9 424.5 C419.0 424.4 423.6 425.8 428.8 426.2 C434.0 426.7 441.8 425.9 446.2 427.1 C450.5 428.3 452.2 430.1 454.8 433.2 C457.4 436.2 458.6 441.6 461.8 445.3 C464.9 449.1 469.3 452.8 473.9 455.7 C478.5 458.6 485.5 460.9 489.5 462.7 C493.6 464.4 495.5 464.7 498.2 466.1 C500.9 467.6 504.7 470.5 506.0 471.3"/>
<path class="lc" d="M350.7 401.1 C351.4 403.5 354.8 411.0 355.1 415.8 C355.4 420.6 354.6 425.7 352.5 429.7 C350.3 433.7 346.7 436.4 342.1 440.1 C337.4 443.9 329.9 448.5 324.7 452.3 C319.5 456.0 314.9 459.2 310.8 462.7 C306.8 466.1 302.7 469.0 300.4 473.1 C298.1 477.1 296.9 482.6 296.9 487.0 C296.9 491.3 297.8 495.3 300.4 499.1 C303.0 502.9 307.4 506.3 312.6 509.5 C317.8 512.7 324.4 516.5 331.6 518.2 C338.9 519.9 347.8 520.2 355.9 519.9 C364.0 519.6 372.4 517.3 380.2 516.5 C388.0 515.6 395.8 515.0 402.8 514.7 C409.7 514.4 416.1 513.8 421.9 514.7 C427.6 515.6 432.3 517.3 437.5 519.9 C442.7 522.5 448.8 526.9 453.1 530.3 C457.4 533.8 460.0 537.2 463.5 540.6 C467.0 544.1 471.3 548.6 473.9 551.0 C476.5 553.5 476.5 553.8 479.1 555.4 C481.7 557.0 485.0 559.0 489.5 560.6 C494.0 562.2 503.3 564.2 506.0 564.9"/>
<path class="vlc" d="M399.3 401.1 C399.3 404.4 399.3 413.4 399.3 421.0 C399.3 428.7 398.1 440.1 399.3 447.1 C400.5 454.0 402.5 458.3 406.2 462.7 C410.0 467.0 416.4 469.9 421.9 473.1 C427.4 476.3 434.3 479.1 439.2 481.8 C444.1 484.4 447.3 485.8 451.4 488.7 C455.4 491.6 459.2 495.9 463.5 499.1 C467.8 502.3 472.5 505.9 477.4 507.8 C482.3 509.7 488.2 509.9 493.0 510.4 C497.8 510.8 503.8 510.4 506.0 510.4"/>
<path class="lc" d="M278.2 552.8 C280.2 551.6 285.4 548.5 290.0 545.8 C294.6 543.2 301.3 537.7 305.6 536.8 C310.0 535.9 312.0 538.8 316.0 540.3 C320.1 541.8 325.9 545.0 329.9 545.8 C334.0 546.6 336.6 546.1 340.3 545.0 C344.1 543.8 348.7 541.6 352.5 538.9 C356.2 536.1 360.6 531.6 362.9 528.5 C365.2 525.3 365.8 524.8 366.3 519.9 C366.9 515.0 365.5 504.6 366.3 499.1 C367.2 493.6 368.1 490.4 371.5 487.0 C375.0 483.5 381.7 480.6 387.2 478.3 C392.7 476.0 398.7 475.8 404.5 473.1 C410.3 470.3 416.9 463.5 421.9 461.8 C426.8 460.1 429.7 460.8 434.0 462.7 C438.3 464.5 443.3 470.5 447.9 473.1 C452.5 475.7 456.9 478.3 461.8 478.3 C466.7 478.3 472.5 475.7 477.4 473.1 C482.3 470.5 486.5 465.8 491.3 462.7 C496.0 459.5 503.6 455.4 506.0 454.0"/>
<path class="lc" d="M74.3 610.0 C75.9 608.3 80.3 601.9 83.9 599.6 C87.5 597.3 92.8 596.1 96.0 596.1 C99.2 596.1 102.1 597.6 103.0 599.6 C103.8 601.6 102.1 605.4 101.2 608.3 C100.4 611.2 97.8 614.5 97.8 617.0 C97.8 619.4 98.6 621.7 101.2 623.0 C103.8 624.3 109.0 623.8 113.4 624.8 C117.7 625.8 122.3 627.5 127.3 629.1 C132.2 630.7 137.4 633.4 142.9 634.3 C148.4 635.2 153.6 634.9 160.2 634.3 C166.9 633.7 174.7 632.0 182.8 630.8 C190.9 629.7 201.6 628.2 208.8 627.4 C216.0 626.5 220.9 627.1 226.2 625.6 C231.4 624.2 235.7 621.7 240.0 618.7 C244.4 615.7 247.8 609.6 252.2 607.4 C256.5 605.2 261.7 605.5 266.1 605.7 C270.4 605.8 272.8 607.3 278.2 608.3 C283.6 609.3 292.9 610.9 298.7 611.8 C304.4 612.6 306.8 614.1 312.6 613.5 C318.3 612.9 326.1 610.9 333.4 608.3 C340.6 605.7 350.1 600.8 355.9 597.9 C361.7 595.0 365.2 592.7 368.1 590.9 C371.0 589.2 372.0 589.5 373.3 587.5 C374.6 585.4 375.7 582.0 375.9 578.8 C376.0 575.6 374.3 572.1 374.1 568.4 C374.0 564.6 374.0 559.1 375.0 556.2 C376.0 553.3 376.8 552.5 380.2 551.0 C383.7 549.6 388.9 549.0 395.8 547.6 C402.8 546.1 414.6 544.1 421.9 542.4 C429.1 540.6 435.2 538.9 439.2 537.1 C443.3 535.4 442.0 535.8 446.2 531.9 C450.3 528.1 461.3 516.9 464.4 513.8"/>
<path class="lc" d="M75.2 538.0 C77.2 537.9 83.0 536.9 87.4 537.1 C91.7 537.4 95.4 538.3 101.2 539.7 C107.0 541.2 115.1 544.2 122.1 545.8 C129.0 547.4 136.5 547.8 142.9 549.3 C149.2 550.7 155.3 552.2 160.2 554.5 C165.1 556.8 169.5 560.3 172.4 563.2 C175.3 566.1 177.3 569.2 177.6 571.8 C177.9 574.4 176.1 577.2 174.1 578.8 C172.1 580.4 168.9 581.1 165.4 581.4 C162.0 581.7 158.2 581.1 153.3 580.5 C148.4 579.9 142.6 578.8 135.9 577.9 C129.3 577.1 120.0 575.7 113.4 575.3 C106.7 574.9 101.5 574.7 96.0 575.3 C90.5 575.9 84.0 577.8 80.4 578.8 C76.8 579.8 75.3 581.0 74.3 581.4"/>
<path class="lc" d="M177.6 571.8 C178.1 570.4 178.7 564.9 181.0 563.2 C183.4 561.4 185.4 561.4 191.5 561.4 C197.5 561.4 208.8 562.3 217.5 563.2 C226.2 564.0 236.3 565.2 243.5 566.6 C250.7 568.1 255.6 570.1 260.9 571.8 C266.1 573.6 271.3 574.4 274.7 577.1 C278.2 579.7 279.6 583.4 281.7 587.5 C283.7 591.5 283.8 595.6 286.9 601.3 C290.0 607.1 295.8 616.4 300.4 622.2 C305.0 627.9 309.4 631.4 314.3 636.0 C319.2 640.7 325.6 646.2 329.9 649.9 C334.2 653.7 338.6 657.2 340.3 658.6"/>
<path class="lc" d="M177.6 571.8 C178.1 573.3 178.7 576.8 181.0 580.5 C183.4 584.3 188.0 589.8 191.5 594.4 C194.9 599.0 198.1 603.9 201.9 608.3 C205.6 612.6 210.0 617.2 214.0 620.4 C218.1 623.6 222.4 624.8 226.2 627.4 C229.9 630.0 233.4 632.9 236.6 636.0 C239.7 639.2 242.6 642.7 245.2 646.5 C247.8 650.2 251.0 656.6 252.2 658.6"/>
<path class="vlc" d="M432.3 658.6 C434.6 654.8 441.8 643.8 446.2 636.0 C450.5 628.2 454.2 620.1 458.3 611.8 C462.3 603.4 466.7 593.5 470.4 585.7 C474.2 577.9 477.1 570.7 480.9 564.9 C484.6 559.1 488.8 554.2 493.0 551.0 C497.2 547.8 503.8 546.7 506.0 545.8"/>
<path class="p3" d="M347.3 658.6 C350.1 657.7 360.0 655.1 364.6 653.4 C369.2 651.7 372.7 651.7 375.0 648.2 C377.3 644.7 377.3 637.8 378.5 632.6 C379.6 627.4 380.5 621.3 382.0 617.0 C383.4 612.6 385.1 608.7 387.2 606.5 C389.2 604.4 391.5 603.1 394.1 603.9 C396.7 604.8 399.6 608.7 402.8 611.8 C406.0 614.8 409.7 619.7 413.2 622.2 C416.7 624.6 419.5 626.2 423.6 626.5 C427.6 626.8 433.7 624.3 437.5 623.9 C441.2 623.5 443.0 623.0 446.2 623.9 C449.3 624.8 452.5 626.5 456.6 629.1 C460.6 631.7 465.8 636.0 470.4 639.5 C475.1 643.0 479.7 647.0 484.3 649.9 C488.9 652.8 493.9 655.4 498.2 656.9 C502.5 658.3 508.0 658.3 510.0 658.6"/>
<g stroke="#ff0000" fill="none" stroke-linejoin="miter" stroke-miterlimit="3"><path stroke-width="2.4" d="M226.2 454.0 L238.2 461.0 M280.6 486.0 L292.6 493.0"/><path stroke-width="2.6" d="M238.2 461.0 L243.7 456.1 L238.2 469.2 L249.2 459.4 L243.7 472.4 L254.7 462.6 L249.2 475.7 L260.2 465.8 L254.8 478.9 L265.7 469.1 L260.3 482.1 L271.2 472.3 L265.8 485.4 L276.7 475.5 L271.3 488.6 L282.2 478.8 L280.6 486.0"/></g><circle cx="226.2" cy="454.0" r="3.9" fill="#ff0000"/><circle cx="292.6" cy="493.0" r="3.9" fill="#ff0000"/>
<g stroke="#ff0000" fill="none" stroke-linejoin="miter" stroke-miterlimit="3"><path stroke-width="2.4" d="M94.3 520.8 L104.9 531.4 M142.7 569.1 L153.3 579.7"/><path stroke-width="2.6" d="M104.9 531.4 L111.6 528.2 L103.2 539.6 L116.5 533.1 L108.1 544.5 L121.4 538.0 L113.0 549.3 L126.3 542.9 L117.9 554.2 L131.2 547.7 L122.8 559.1 L136.1 552.6 L127.7 564.0 L141.0 557.5 L132.5 568.9 L145.9 562.4 L142.7 569.1"/></g><circle cx="94.3" cy="520.8" r="3.9" fill="#ff0000"/><circle cx="153.3" cy="579.7" r="3.9" fill="#ff0000"/>
<g stroke="#ff0000" fill="none" stroke-linejoin="miter" stroke-miterlimit="3"><path stroke-width="2.4" d="M113.4 624.8 L128.1 621.7 M180.2 610.5 L194.9 607.4"/><path stroke-width="2.6" d="M128.1 621.7 L129.0 614.3 L134.0 627.6 L135.8 612.9 L140.7 626.1 L142.6 611.4 L147.5 624.7 L149.3 610.0 L154.3 623.2 L156.1 608.5 L161.0 621.8 L162.8 607.1 L167.8 620.3 L169.6 605.6 L174.5 618.9 L176.3 604.2 L180.2 610.5"/></g><circle cx="113.4" cy="624.8" r="3.9" fill="#ff0000"/><circle cx="194.9" cy="607.4" r="3.9" fill="#ff0000"/>
<g stroke="#ff0000" fill="none" stroke-linejoin="miter" stroke-miterlimit="3"><path stroke-width="2.4" d="M285.1 584.9 L300.0 586.0 M353.2 589.8 L368.1 590.9"/><path stroke-width="2.6" d="M300.0 586.0 L303.0 579.2 L304.1 593.3 L309.9 579.7 L311.0 593.8 L316.8 580.2 L317.8 594.3 L323.7 580.7 L324.7 594.8 L330.5 581.2 L331.6 595.3 L337.4 581.7 L338.5 595.8 L344.3 582.2 L345.4 596.3 L351.2 582.7 L353.2 589.8"/></g><circle cx="285.1" cy="584.9" r="3.9" fill="#ff0000"/><circle cx="368.1" cy="590.9" r="3.9" fill="#ff0000"/>
<g stroke="#ff0000" fill="none" stroke-linejoin="miter" stroke-miterlimit="3"><path stroke-width="2.4" d="M395.8 547.6 L410.8 549.0 M464.1 554.0 L479.1 555.4"/><path stroke-width="2.6" d="M410.8 549.0 L413.9 542.3 L414.7 556.4 L420.8 542.9 L421.6 557.0 L427.7 543.6 L428.5 557.7 L434.6 544.2 L435.4 558.3 L441.6 544.9 L442.3 559.0 L448.5 545.5 L449.2 559.6 L455.4 546.1 L456.1 560.3 L462.3 546.8 L464.1 554.0"/></g><circle cx="395.8" cy="547.6" r="3.9" fill="#ff0000"/><circle cx="479.1" cy="555.4" r="3.9" fill="#ff0000"/>
<g stroke="#0596fa" stroke-width="3.3" stroke-linecap="round" fill="none"><path d="M137.7 460.1 L142.0 443.6"/><path d="M134.4 437.9 A9.5 9.5 0 0 1 151.5 443.1"/><path d="M144.8 434.5 L148.1 423.6"/></g><circle cx="142.0" cy="443.6" r="4.1" fill="#0596fa"/>
<g stroke="#0596fa" stroke-width="3.3" stroke-linecap="round" fill="none"><path d="M174.1 515.6 L181.0 501.7"/><path d="M175.1 494.2 A9.5 9.5 0 0 1 190.3 503.6"/><path d="M186.0 493.6 L192.3 483.5"/></g><circle cx="181.0" cy="501.7" r="4.1" fill="#0596fa"/>
<g stroke="#0596fa" stroke-width="3.3" stroke-linecap="round" fill="none"><path d="M268.7 521.7 L283.4 514.7"/><path d="M282.4 505.2 A9.5 9.5 0 0 1 290.2 521.3"/><path d="M291.9 510.6 L303.0 505.2"/></g><circle cx="283.4" cy="514.7" r="4.1" fill="#0596fa"/>
<g stroke="#0596fa" stroke-width="3.3" stroke-linecap="round" fill="none"><path d="M333.4 428.8 L324.7 442.7"/><path d="M330.8 450.0 A9.5 9.5 0 0 1 315.3 441.1"/><path d="M320.0 450.9 L314.3 460.9"/></g><circle cx="324.7" cy="442.7" r="4.1" fill="#0596fa"/>
<g stroke="#0596fa" stroke-width="3.3" stroke-linecap="round" fill="none"><path d="M431.4 428.0 L435.7 443.6"/><path d="M445.1 444.6 A9.5 9.5 0 0 1 427.8 448.9"/><path d="M438.0 452.8 L440.9 464.4"/></g><circle cx="435.7" cy="443.6" r="4.1" fill="#0596fa"/>
<g stroke="#0596fa" stroke-width="3.3" stroke-linecap="round" fill="none"><path d="M419.3 513.9 L427.9 500.0"/><path d="M422.7 492.1 A9.5 9.5 0 0 1 437.0 502.7"/><path d="M433.5 492.4 L440.1 483.5"/></g><circle cx="427.9" cy="500.0" r="4.1" fill="#0596fa"/>
<g stroke="#0596fa" stroke-width="3.3" stroke-linecap="round" fill="none"><path d="M253.9 571.0 L259.1 584.9"/><path d="M268.6 585.4 A9.5 9.5 0 0 1 251.5 590.6"/><path d="M261.9 594.0 L265.2 604.8"/></g><circle cx="259.1" cy="584.9" r="4.1" fill="#0596fa"/>
<g stroke="#0596fa" stroke-width="3.3" stroke-linecap="round" fill="none"><path d="M375.0 556.2 L359.4 551.0"/><path d="M353.9 558.7 A9.5 9.5 0 0 1 358.6 541.5"/><path d="M350.2 548.5 L337.7 545.0"/></g><circle cx="359.4" cy="551.0" r="4.1" fill="#0596fa"/>
<g stroke="#0596fa" stroke-width="3.3" stroke-linecap="round" fill="none"><path d="M463.5 597.9 L451.4 609.1"/><path d="M455.4 617.7 A9.5 9.5 0 0 1 442.8 605.1"/><path d="M444.7 615.8 L435.7 624.8"/></g><circle cx="451.4" cy="609.1" r="4.1" fill="#0596fa"/>
<g stroke="#0596fa" stroke-width="3.3" stroke-linecap="round" fill="none"><path d="M496.5 547.6 L493.0 531.9"/><path d="M483.5 531.1 A9.5 9.5 0 0 1 500.7 526.4"/><path d="M490.5 522.7 L487.8 513.0"/></g><circle cx="493.0" cy="531.9" r="4.1" fill="#0596fa"/>
<path class="g" d="M652.9 445.6 C654.2 446.0 657.9 446.5 660.8 448.0 C663.7 449.4 667.1 453.9 670.3 454.3 C673.4 454.7 676.3 452.6 679.7 450.3 C683.1 448.1 687.1 443.2 690.8 440.9 C694.5 438.5 698.4 436.1 701.8 436.1 C705.2 436.1 707.9 438.0 711.3 440.9 C714.7 443.8 718.7 449.6 722.3 453.5 C726.0 457.5 731.1 461.4 733.4 464.6 C735.6 467.7 735.6 469.6 735.8 472.4 C735.9 475.3 735.1 478.8 734.2 481.9 C733.3 485.1 731.3 488.5 730.2 491.4 C729.2 494.3 727.6 496.9 727.9 499.3 C728.1 501.6 729.3 504.1 731.8 505.6 C734.3 507.0 739.2 506.6 742.9 508.0 C746.5 509.3 751.3 512.2 753.9 513.5 C756.5 514.8 757.8 515.5 758.6 515.8"/>
<path class="g" d="M714.4 408.5 C714.7 410.2 714.4 415.2 716.0 418.8 C717.6 422.3 720.0 426.1 723.9 429.8 C727.9 433.5 734.4 437.5 739.7 440.9 C745.0 444.3 751.3 447.5 755.5 450.3 C759.7 453.2 763.2 455.6 765.0 458.2 C766.7 460.9 766.3 463.2 765.7 466.1 C765.2 469.0 763.1 472.2 761.8 475.6 C760.5 479.0 758.6 483.0 757.8 486.6 C757.1 490.3 756.9 493.2 757.1 497.7 C757.2 502.2 758.4 510.5 758.6 513.5 C758.9 516.5 757.1 516.1 758.6 515.8 C760.2 515.6 764.7 513.9 768.1 511.9 C771.5 509.9 775.5 505.5 779.2 504.0 C782.8 502.6 786.5 501.9 790.2 503.2 C793.9 504.5 798.1 508.6 801.3 511.9 C804.4 515.2 806.5 519.8 809.1 523.0 C811.8 526.1 812.2 528.1 817.0 530.8 C821.9 533.6 834.8 537.8 838.3 539.2"/>
<path class="g" d="M652.9 478.8 C655.5 479.5 662.6 481.4 668.7 483.5 C674.7 485.6 683.4 488.5 689.2 491.4 C695.0 494.3 699.7 497.2 703.4 500.9 C707.1 504.5 709.2 509.8 711.3 513.5 C713.4 517.2 713.9 521.0 716.0 523.0 C718.1 524.9 720.0 525.4 723.9 525.3 C727.9 525.2 734.4 523.7 739.7 522.2 C745.0 520.6 752.9 516.9 755.5 515.8"/>
<path class="g" d="M858.4 541.6 C861.0 540.4 867.4 538.0 874.2 534.5 C881.0 531.0 892.1 523.3 899.4 520.6 C906.8 517.9 913.1 520.2 918.4 518.2 C923.6 516.2 927.3 511.9 931.0 508.7 C934.7 505.6 936.8 501.9 940.5 499.3 C944.2 496.6 947.8 494.5 953.1 493.0 C958.4 491.4 966.3 491.3 972.0 489.8 C977.8 488.4 983.1 485.1 987.8 484.3 C992.6 483.5 996.5 483.9 1000.5 485.1 C1004.4 486.3 1008.3 489.8 1011.5 491.4 C1014.7 493.0 1015.9 494.8 1019.4 494.5 C1022.9 494.3 1027.8 492.4 1032.6 489.8 C1037.5 487.2 1043.9 481.1 1048.4 478.8 C1052.9 476.4 1056.0 476.3 1059.5 475.6 C1062.9 474.9 1066.8 475.6 1068.9 474.8 C1071.0 474.0 1071.8 472.1 1072.1 470.9 C1072.3 469.7 1070.8 468.2 1070.5 467.7"/>
<path class="g" d="M1031.0 408.5 C1030.9 410.8 1029.2 418.1 1030.3 421.9 C1031.3 425.8 1034.1 429.0 1037.4 431.4 C1040.6 433.8 1046.0 433.8 1050.0 436.1 C1053.9 438.5 1056.8 442.9 1061.0 445.6 C1065.2 448.4 1070.5 451.9 1075.2 452.7 C1080.0 453.5 1085.0 452.3 1089.4 450.3 C1093.9 448.4 1097.9 443.6 1102.1 440.9 C1106.3 438.1 1110.5 435.1 1114.7 433.8 C1118.9 432.5 1123.1 432.1 1127.3 433.0 C1131.5 433.9 1136.0 436.4 1140.0 439.3 C1143.9 442.2 1148.1 445.9 1151.0 450.3 C1153.9 454.8 1154.7 461.4 1157.3 466.1 C1159.9 470.9 1163.1 474.8 1166.8 478.8 C1170.5 482.7 1175.5 486.6 1179.4 489.8 C1183.4 493.0 1187.0 494.8 1190.5 497.7 C1193.9 500.6 1196.8 503.5 1199.9 507.2 C1203.1 510.9 1207.8 517.7 1209.4 519.8"/>
<path class="g" d="M1086.3 408.5 C1086.9 410.8 1089.4 416.3 1090.2 421.9 C1091.0 427.6 1091.0 436.4 1091.0 442.5 C1091.0 448.5 1090.0 453.2 1090.2 458.2 C1090.5 463.2 1090.6 468.5 1092.6 472.4 C1094.6 476.4 1097.9 480.1 1102.1 481.9 C1106.3 483.8 1114.0 482.7 1117.9 483.5 C1121.7 484.3 1123.8 484.3 1125.0 486.6 C1126.1 489.0 1124.8 493.8 1125.0 497.7 C1125.1 501.6 1123.2 508.0 1125.7 510.3 C1128.2 512.7 1135.7 510.6 1140.0 511.9 C1144.2 513.2 1147.8 516.0 1151.0 518.2 C1154.2 520.5 1155.7 524.3 1158.9 525.3 C1162.0 526.4 1165.5 526.5 1169.9 524.5 C1174.4 522.6 1181.0 517.4 1185.7 513.5 C1190.5 509.5 1194.7 504.8 1198.3 500.9 C1202.0 496.9 1205.2 491.9 1207.8 489.8 C1210.4 487.7 1213.1 488.5 1214.1 488.2"/>
<path class="g" d="M976.8 649.7 C978.9 647.8 984.9 642.3 989.4 638.6 C993.9 635.0 999.7 631.5 1003.6 627.6 C1007.6 623.6 1007.7 619.2 1013.1 615.0 C1018.4 610.8 1028.8 605.4 1035.8 602.3 C1042.7 599.3 1048.1 598.0 1054.7 596.8 C1061.3 595.6 1068.9 594.8 1075.2 595.2 C1081.6 595.6 1087.1 597.2 1092.6 599.2 C1098.1 601.2 1103.1 604.8 1108.4 607.1 C1113.6 609.3 1118.4 610.9 1124.2 612.6 C1130.0 614.3 1136.8 616.3 1143.1 617.3 C1149.4 618.4 1155.7 618.8 1162.0 618.9 C1168.4 619.0 1175.2 618.6 1181.0 618.1 C1186.8 617.6 1191.8 616.5 1196.8 615.8 C1201.8 615.0 1208.6 613.8 1211.0 613.4"/>
<path class="g" d="M1114.7 651.3 C1117.3 648.1 1126.0 638.4 1130.5 632.3 C1135.0 626.3 1138.4 621.3 1141.5 615.0 C1144.7 608.6 1146.8 601.0 1149.4 594.4 C1152.1 587.9 1154.4 581.6 1157.3 575.5 C1160.2 569.5 1163.4 562.6 1166.8 558.1 C1170.2 553.7 1173.4 551.3 1177.8 548.7 C1182.3 546.0 1187.6 543.8 1193.6 542.4 C1199.7 540.9 1210.7 540.4 1214.1 540.0"/>
<path class="do" d="M804.4 408.5 C805.2 410.0 806.5 414.2 809.1 417.2 C811.8 420.2 816.2 423.5 820.2 426.7 C824.1 429.8 829.9 433.1 832.8 436.1 C835.7 439.2 837.6 441.7 837.6 444.8 C837.6 448.0 835.4 451.8 832.8 455.1 C830.2 458.4 825.7 461.9 821.8 464.6 C817.8 467.2 813.6 468.5 809.1 470.9 C804.7 473.2 799.1 477.4 794.9 478.8 C790.7 480.1 787.8 479.7 783.9 478.8 C779.9 477.8 776.0 474.9 771.3 473.2 C766.5 471.5 761.8 469.8 755.5 468.5 C749.2 467.2 740.2 465.9 733.4 465.3 C726.5 464.8 719.7 464.7 714.4 465.3 C709.2 466.0 705.5 466.8 701.8 469.3 C698.1 471.8 694.7 476.1 692.3 480.3 C690.0 484.5 688.9 489.5 687.6 494.5 C686.3 499.5 685.2 506.8 684.5 510.3 C683.7 513.9 682.9 512.4 682.9 515.8 C682.9 519.3 682.9 527.7 684.5 531.3 C686.0 534.9 688.4 535.8 692.3 537.6 C696.3 539.5 701.6 541.0 708.1 542.4 C714.7 543.7 725.2 544.5 731.8 545.5 C738.4 546.6 742.9 547.1 747.6 548.7 C752.3 550.3 756.5 552.1 760.2 555.0 C763.9 557.9 766.8 562.4 769.7 566.0 C772.6 569.7 774.9 573.4 777.6 577.1 C780.2 580.8 782.8 584.4 785.5 588.1 C788.1 591.8 790.2 595.8 793.4 599.2 C796.5 602.6 800.2 605.2 804.4 608.6 C808.6 612.1 813.9 616.0 818.6 619.7 C823.3 623.4 829.3 627.9 832.8 630.7 C836.3 633.6 837.0 633.9 839.5 637.1 C841.9 640.2 846.0 647.6 847.4 649.7"/>
<path class="do" d="M981.5 408.5 C981.9 410.5 984.1 416.5 983.9 420.4 C983.6 424.2 982.7 428.3 979.9 431.4 C977.2 434.6 972.6 436.7 967.3 439.3 C962.1 441.9 954.2 444.6 948.4 447.2 C942.6 449.8 936.8 452.5 932.6 455.1 C928.4 457.7 925.5 460.3 923.1 463.0 C920.8 465.6 918.9 467.2 918.4 470.9 C917.9 474.5 918.4 480.6 920.0 485.1 C921.5 489.5 924.4 494.0 927.9 497.7 C931.3 501.4 935.2 504.3 940.5 507.2 C945.7 510.1 952.1 512.7 959.4 515.1 C966.8 517.4 976.0 519.5 984.7 521.4 C993.4 523.2 1001.7 524.6 1011.5 526.1 C1021.3 527.6 1034.4 529.0 1043.7 530.5 C1053.0 532.0 1060.2 533.0 1067.3 535.3 C1074.5 537.5 1080.5 539.9 1086.3 543.9 C1092.1 548.0 1097.3 555.3 1102.1 559.7 C1106.8 564.2 1110.0 567.5 1114.7 570.8 C1119.4 574.1 1125.7 577.9 1130.5 579.5 C1135.2 581.0 1139.2 581.4 1143.1 580.2 C1147.1 579.1 1150.5 575.2 1154.2 572.3 C1157.8 569.5 1161.3 564.7 1165.2 562.9 C1169.1 561.0 1173.1 560.5 1177.8 561.3 C1182.6 562.1 1188.9 565.9 1193.6 567.6 C1198.3 569.3 1202.8 571.0 1206.2 571.6 C1209.7 572.1 1212.8 570.9 1214.1 570.8"/>
<path class="do" d="M651.3 588.1 C654.2 586.8 662.6 582.9 668.7 580.2 C674.7 577.6 681.0 573.8 687.6 572.3 C694.2 570.9 701.6 571.3 708.1 571.6 C714.7 571.8 721.4 573.3 727.1 573.9 C732.7 574.6 736.8 575.0 742.1 575.5 C747.3 576.0 753.0 577.0 758.6 577.1 C764.3 577.2 772.3 577.3 776.0 576.3 C779.7 575.2 779.7 573.0 780.7 570.8 C781.8 568.5 781.3 565.0 782.3 562.9 C783.4 560.8 783.6 558.9 787.0 558.1 C790.5 557.4 797.0 557.9 802.8 558.1 C808.6 558.4 814.1 559.1 821.8 559.7 C829.5 560.4 841.5 561.2 848.9 562.1 C856.4 563.0 861.0 563.8 866.3 565.2 C871.6 566.7 876.8 569.1 880.5 570.8 C884.2 572.5 886.3 573.1 888.4 575.5 C890.5 577.9 891.0 580.8 893.1 585.0 C895.2 589.2 897.9 595.0 901.0 600.8 C904.2 606.5 907.9 613.9 912.1 619.7 C916.3 625.5 921.0 630.5 926.3 635.5 C931.5 640.5 940.7 647.3 943.6 649.7"/>
<path class="do" d="M652.1 601.5 C654.6 601.7 663.0 603.5 667.1 602.3 C671.2 601.2 672.9 596.4 676.6 594.4 C680.2 592.5 685.8 590.5 689.2 590.5 C692.6 590.5 696.0 592.2 697.1 594.4 C698.1 596.7 696.4 601.0 695.5 603.9 C694.6 606.8 691.0 609.7 691.6 611.8 C692.1 613.9 695.2 615.5 698.7 616.5 C702.1 617.6 707.3 616.8 712.1 618.1 C716.8 619.4 721.9 622.7 727.1 624.4 C732.2 626.1 736.5 628.1 742.9 628.4 C749.2 628.6 757.6 626.8 765.0 626.0 C772.3 625.2 779.4 624.4 787.0 623.6 C794.7 622.9 804.1 622.2 810.7 621.3 C817.3 620.4 818.6 621.0 826.5 618.1 C834.5 615.2 849.9 606.8 858.4 603.9 C866.9 601.0 870.2 601.2 877.3 600.8 C884.5 600.4 893.1 601.8 901.0 601.5 C908.9 601.3 916.8 600.4 924.7 599.2 C932.6 598.0 940.9 596.0 948.4 594.4 C955.9 592.9 964.2 591.2 969.7 589.7 C975.2 588.3 977.7 587.3 981.5 585.8 C985.3 584.2 989.7 582.7 992.6 580.2 C995.5 577.7 998.0 574.7 998.9 570.8 C999.8 566.8 998.4 560.5 998.1 556.6 C997.8 552.6 996.4 549.3 997.3 547.1 C998.2 544.9 999.9 544.2 1003.6 543.2 C1007.3 542.1 1014.0 541.2 1019.4 540.8 C1024.8 540.4 1030.4 540.9 1035.8 540.8 C1041.1 540.7 1046.3 541.0 1051.6 540.0 C1056.8 538.9 1061.6 537.8 1067.3 534.5 C1073.1 531.1 1080.8 524.2 1086.3 519.8 C1091.8 515.4 1098.1 509.9 1100.5 508.0"/>
<g stroke="#c00000" fill="none" stroke-linejoin="miter" stroke-miterlimit="3"><path stroke-width="2.4" d="M838.1 444.8 L852.6 448.6 M903.9 462.3 L918.4 466.1"/><path stroke-width="2.6" d="M852.6 448.6 L857.1 442.6 L855.8 456.7 L864.7 444.6 L863.5 458.8 L872.4 446.7 L871.1 460.8 L880.0 448.7 L878.7 462.8 L887.7 450.7 L886.4 464.9 L895.3 452.7 L894.0 466.9 L903.0 454.8 L903.9 462.3"/></g><circle cx="838.1" cy="444.8" r="3.9" fill="#c00000"/><circle cx="918.4" cy="466.1" r="3.9" fill="#c00000"/>
<g stroke="#c00000" fill="none" stroke-linejoin="miter" stroke-miterlimit="3"><path stroke-width="2.4" d="M682.9 515.8 L693.6 526.4 M731.4 564.1 L742.1 574.7"/><path stroke-width="2.6" d="M693.6 526.4 L700.3 523.2 L691.9 534.6 L705.2 528.1 L696.8 539.5 L710.1 533.0 L701.7 544.4 L715.0 537.8 L706.6 549.2 L719.9 542.7 L711.5 554.1 L724.8 547.6 L716.4 559.0 L729.7 552.5 L721.3 563.9 L734.6 557.4 L731.4 564.1"/></g><circle cx="682.9" cy="515.8" r="3.9" fill="#c00000"/><circle cx="742.1" cy="574.7" r="3.9" fill="#c00000"/>
<g stroke="#c00000" fill="none" stroke-linejoin="miter" stroke-miterlimit="3"><path stroke-width="2.4" d="M712.1 618.1 L726.7 614.8 M778.8 603.3 L793.4 600.0"/><path stroke-width="2.6" d="M726.7 614.8 L727.6 607.5 L732.7 620.7 L734.4 606.0 L739.4 619.2 L741.1 604.5 L746.2 617.7 L747.9 603.0 L752.9 616.2 L754.6 601.5 L759.7 614.7 L761.3 600.0 L766.4 613.2 L768.1 598.5 L773.1 611.7 L774.8 597.0 L778.8 603.3"/></g><circle cx="712.1" cy="618.1" r="3.9" fill="#c00000"/><circle cx="793.4" cy="600.0" r="3.9" fill="#c00000"/>
<g stroke="#c00000" fill="none" stroke-linejoin="miter" stroke-miterlimit="3"><path stroke-width="2.4" d="M888.4 575.5 L903.0 578.1 M955.1 587.1 L969.7 589.7"/><path stroke-width="2.6" d="M903.0 578.1 L906.7 571.6 L906.3 585.7 L913.4 572.8 L913.0 586.9 L920.1 573.9 L919.8 588.1 L926.9 575.1 L926.5 589.3 L933.6 576.3 L933.2 590.4 L940.4 577.5 L940.0 591.6 L947.1 578.6 L946.7 592.8 L953.8 579.8 L955.1 587.1"/></g><circle cx="888.4" cy="575.5" r="3.9" fill="#c00000"/><circle cx="969.7" cy="589.7" r="3.9" fill="#c00000"/>
<g stroke="#c00000" fill="none" stroke-linejoin="miter" stroke-miterlimit="3"><path stroke-width="2.4" d="M1021.6 545.5 L1036.1 548.2 M1087.6 557.8 L1102.1 560.5"/><path stroke-width="2.6" d="M1036.1 548.2 L1039.8 541.8 L1039.2 555.9 L1046.4 543.0 L1045.9 557.1 L1053.1 544.3 L1052.6 558.4 L1059.8 545.5 L1059.2 559.6 L1066.5 546.7 L1065.9 560.9 L1073.1 548.0 L1072.6 562.1 L1079.8 549.2 L1079.3 563.4 L1086.5 550.5 L1087.6 557.8"/></g><circle cx="1021.6" cy="545.5" r="3.9" fill="#c00000"/><circle cx="1102.1" cy="560.5" r="3.9" fill="#c00000"/>
<g stroke="#0aa0fa" stroke-width="3.3" stroke-linecap="round" fill="none"><path d="M766.5 461.4 L783.1 465.3"/><path d="M788.9 457.8 A9.5 9.5 0 0 1 783.4 474.8"/><path d="M792.1 468.2 L802.8 471.7"/></g><circle cx="783.1" cy="465.3" r="4.1" fill="#0aa0fa"/>
<g stroke="#0aa0fa" stroke-width="3.3" stroke-linecap="round" fill="none"><path d="M727.1 524.5 L739.7 536.0"/><path d="M748.4 532.2 A9.5 9.5 0 0 1 735.5 544.5"/><path d="M746.2 542.9 L753.9 551.0"/></g><circle cx="739.7" cy="536.0" r="4.1" fill="#0aa0fa"/>
<g stroke="#0aa0fa" stroke-width="3.3" stroke-linecap="round" fill="none"><path d="M950.0 455.1 L953.9 470.1"/><path d="M963.3 471.2 A9.5 9.5 0 0 1 946.0 475.3"/><path d="M956.1 479.3 L958.6 489.8"/></g><circle cx="953.9" cy="470.1" r="4.1" fill="#0aa0fa"/>
<g stroke="#0aa0fa" stroke-width="3.3" stroke-linecap="round" fill="none"><path d="M1056.3 443.2 L1051.6 458.2"/><path d="M1059.4 463.6 A9.5 9.5 0 0 1 1042.1 459.1"/><path d="M1049.2 467.4 L1046.0 479.5"/></g><circle cx="1051.6" cy="458.2" r="4.1" fill="#0aa0fa"/>
<g stroke="#0aa0fa" stroke-width="3.3" stroke-linecap="round" fill="none"><path d="M1124.2 485.9 L1138.4 477.2"/><path d="M1137.0 467.8 A9.5 9.5 0 0 1 1145.5 483.5"/><path d="M1146.7 472.7 L1157.3 466.9"/></g><circle cx="1138.4" cy="477.2" r="4.1" fill="#0aa0fa"/>
<g stroke="#0aa0fa" stroke-width="3.3" stroke-linecap="round" fill="none"><path d="M794.1 555.8 L798.1 540.8"/><path d="M790.1 535.7 A9.5 9.5 0 0 1 807.5 539.6"/><path d="M800.2 531.5 L802.8 519.8"/></g><circle cx="798.1" cy="540.8" r="4.1" fill="#0aa0fa"/>
<g stroke="#0aa0fa" stroke-width="3.3" stroke-linecap="round" fill="none"><path d="M866.3 564.5 L875.0 549.5"/><path d="M868.9 542.2 A9.5 9.5 0 0 1 884.3 551.2"/><path d="M879.8 541.3 L885.2 532.1"/></g><circle cx="875.0" cy="549.5" r="4.1" fill="#0aa0fa"/>
<g stroke="#0aa0fa" stroke-width="3.3" stroke-linecap="round" fill="none"><path d="M993.4 582.6 L1003.6 592.9"/><path d="M1012.2 588.9 A9.5 9.5 0 0 1 999.6 601.5"/><path d="M1010.3 599.6 L1018.6 607.9"/></g><circle cx="1003.6" cy="592.9" r="4.1" fill="#0aa0fa"/>
<g stroke="#0aa0fa" stroke-width="3.3" stroke-linecap="round" fill="none"><path d="M1155.7 522.2 L1159.7 537.6"/><path d="M1169.2 538.4 A9.5 9.5 0 0 1 1151.9 543.1"/><path d="M1162.2 546.8 L1165.2 558.1"/></g><circle cx="1159.7" cy="537.6" r="4.1" fill="#0aa0fa"/>
<g stroke="#0aa0fa" stroke-width="3.3" stroke-linecap="round" fill="none"><path d="M1130.5 631.5 L1119.4 620.5"/><path d="M1110.6 624.0 A9.5 9.5 0 0 1 1123.9 612.1"/><path d="M1113.1 613.4 L1106.0 605.5"/></g><circle cx="1119.4" cy="620.5" r="4.1" fill="#0aa0fa"/>

<g stroke="#000" stroke-width="2.8" fill="none" stroke-dasharray="20.50 10.66"><path d="M79.3 58.0 L384.5 58.0" stroke-dashoffset="17.06"/><path d="M79.3 58.0 L79.3 316.4" stroke-dashoffset="29.66"/><path d="M79.3 316.4 L384.5 316.4" stroke-dashoffset="7.34"/><path d="M384.5 58.0 L384.5 316.4" stroke-dashoffset="10.38"/><path d="M655.6 71.7 L1179.5 71.7" stroke-dashoffset="0.70"/><path d="M655.6 71.7 L655.6 306.3" stroke-dashoffset="29.76"/><path d="M655.6 306.3 L1179.5 306.3" stroke-dashoffset="15.16"/><path d="M1179.5 71.7 L1179.5 306.3" stroke-dashoffset="25.88"/><path d="M75.6 400.0 L506.1 400.0" stroke-dashoffset="16.76"/><path d="M75.6 400.0 L75.6 657.5" stroke-dashoffset="29.36"/><path d="M75.6 657.5 L506.1 657.5" stroke-dashoffset="6.78"/><path d="M506.1 400.0 L506.1 657.5" stroke-dashoffset="11.08"/><path d="M651.8 407.6 L1215.5 407.6" stroke-dashoffset="27.56"/><path d="M651.8 407.6 L651.8 651.5" stroke-dashoffset="29.96"/><path d="M651.8 651.5 L1215.5 651.5" stroke-dashoffset="24.18"/><path d="M1215.5 407.6 L1215.5 651.5" stroke-dashoffset="29.88"/></g>
<rect x="39.9" y="97" width="1" height="2" fill="#9a9a9a"/><rect x="39.9" y="241.5" width="1" height="2.5" fill="#9a9a9a"/>

<!-- legend -->
<path d="M181.8 731.7 C190 722 196 719.4 201.2 719.4 C210 719.4 216 732.6 222.5 732.6 C228 732.6 235 722 241.4 713.2" fill="none" stroke="#a3a3a3" stroke-width="3.3" stroke-linecap="round"/>
<text class="leg" x="275" y="730.7">Stress-free chain</text>
<path d="M531.8 731.7 C540 722 546 719.4 551.2 719.4 C560 719.4 566 732.6 572.5 732.6 C578 732.6 585 722 591.4 713.2" fill="none" stroke="#f0a060" stroke-width="3.3" stroke-linecap="round"/>
<text class="leg" x="619" y="730.7">Stretched chain</text>
<path d="M855.6 731.2 C864 722 870 719.4 875 719.4 C884 719.4 890 732.6 895.8 732.6 C902 732.6 908 722 914.3 713.7" fill="none" stroke="#7030a0" stroke-width="3.3" stroke-linecap="round"/>
<text class="leg" x="949" y="730.7">Compressed chain</text>

<g stroke="#fa6b6b" fill="none"><path stroke-width="1.8" d="M181.8 787.7 L197 787.7 M245.7 787.7 L260.3 787.7"/>
<path stroke-width="2.4" stroke-linejoin="miter" d="M197 787.7 L198.4 777.8 L201.2 797.8 L204.5 777.8 L207.8 797.8 L211.2 777.8 L214.5 797.8 L217.8 777.8 L221.1 797.8 L224.4 777.8 L227.8 797.8 L231.1 777.8 L234.4 797.8 L237.7 777.8 L241 797.8 L244.3 777.8 L245.7 787.7"/></g>
<circle cx="181.8" cy="787.7" r="4" fill="#fa6b6b"/><circle cx="260.3" cy="787.7" r="4" fill="#fa6b6b"/>
<text class="leg" x="278" y="794.8">Permanent bond</text>
<g stroke="#0596fa" stroke-width="3.3" fill="none" stroke-linecap="round"><path d="M536.6 786 L556.9 786"/><path d="M562.1 774.5 A12.5 12.5 0 0 1 562.1 797.2"/><path d="M569.4 786 L584.8 786"/></g><circle cx="556.9" cy="786" r="4.7" fill="#0596fa"/>
<text class="leg" x="620" y="794.8">Dynamic bond</text>
</svg>
</body></html>
